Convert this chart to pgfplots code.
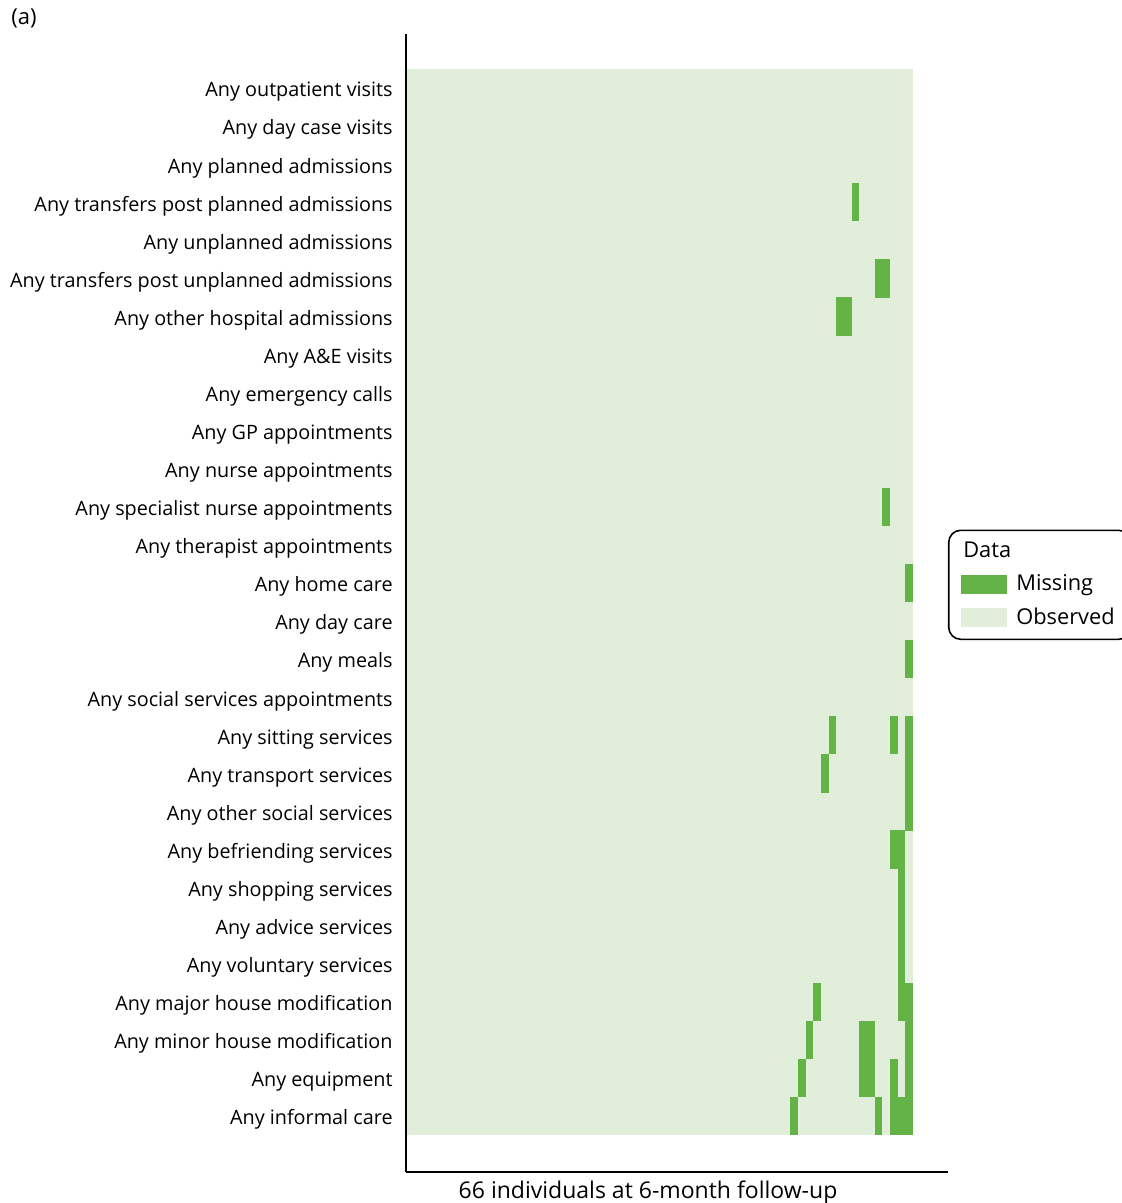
\documentclass[border=0pt]{standalone}
\usepackage{fontspec}
\setmainfont{Open Sans}
\usepackage{pgfplots}
\usepackage{pgfplotstable}
\pgfplotsset{compat=1.18}

\definecolor{miss}{RGB}{99,179,71}
\definecolor{obs}{RGB}{225,239,218}

% one heatmap cell: 1 x-unit (3.8333bp) by 1 y-unit (19.036bp)
\pgfdeclareplotmark{cell}{%
  \pgfpathrectangle{\pgfpoint{-1.95bp}{-9.56bp}}{\pgfpoint{3.9bp}{19.12bp}}%
  \pgfusepathqfill}

% missing cells: individual (0..65, left to right), item (0..27, top to bottom)
\pgfplotstableread{
col row
58 3
61 5
62 5
56 6
57 6
62 11
65 13
65 15
55 17
63 17
65 17
54 18
65 18
65 19
63 20
64 20
64 21
64 22
64 23
53 24
64 24
65 24
52 25
59 25
60 25
65 25
51 26
59 26
60 26
63 26
65 26
50 27
61 27
63 27
64 27
65 27
}\missingcells

\begin{document}
\begin{tikzpicture}
\path[use as bounding box] (0,0) rectangle (561bp,-601.5bp);
\node[anchor=base west, inner sep=0pt, font=\fontsize{11bp}{13bp}\selectfont]
  at (5.5bp,-12bp) {(a)};
\begin{axis}[
    at={(203bp,-586bp)}, anchor=south west,
    x=3.8333bp, y=19.036bp,
    xmin=-0.13, xmax=70.56,
    ymin=-0.97, ymax=28.92,
    axis x line*=bottom, axis y line*=left,
    axis line style={-, line width=0.85bp, black},
    xtick=\empty,
    ytick={0.5,1.5,...,27.5},
    yticklabels={
      Any informal care, Any equipment, Any minor house modification,
      Any major house modification, Any voluntary services,
      Any advice services, Any shopping services, Any befriending services,
      Any other social services, Any transport services,
      Any sitting services, Any social services appointments, Any meals,
      Any day care, Any home care, Any therapist appointments,
      Any specialist nurse appointments, Any nurse appointments,
      Any GP appointments, Any emergency calls, Any A\&E visits,
      Any other hospital admissions, Any transfers post unplanned admissions,
      Any unplanned admissions, Any transfers post planned admissions,
      Any planned admissions, Any day case visits, Any outpatient visits},
    major tick length=0pt,
    yticklabel style={font=\fontsize{9.9bp}{12bp}\selectfont, inner sep=0pt,
      anchor=base east, xshift=-6.5bp, yshift=-4.4bp},
    legend cell align=left,
    legend style={at={(1,0.516)}, anchor=west, draw=black, line width=0.8bp,
      rounded corners=6bp, inner xsep=6bp, inner ysep=4bp, row sep=3bp,
      column sep=2.5bp, font=\fontsize{10.9bp}{12bp}\selectfont},
]
\addplot[fill=obs, draw=none, forget plot] coordinates {(0,0) (66,0) (66,28) (0,28)} -- cycle;
\addplot[only marks, mark=cell, color=miss, forget plot]
  table[x expr=\thisrow{col}+0.5, y expr=27.5-\thisrow{row}] {\missingcells};
\addlegendimage{empty legend}
\addlegendentry{\hspace*{-26.5bp}Data}
\addlegendimage{legend image code/.code={\fill[miss, sharp corners] (0bp,-4.25bp) rectangle (22.5bp,4.25bp);}}
\addlegendentry{Missing}
\addlegendimage{legend image code/.code={\fill[obs, sharp corners] (0bp,-4.25bp) rectangle (22.5bp,4.25bp);}}
\addlegendentry{Observed}
\end{axis}
\node[anchor=base, inner sep=0pt, font=\fontsize{11.5bp}{13bp}\selectfont]
  at (324bp,-599bp) {66 individuals at 6-month follow-up};
\end{tikzpicture}
\end{document}
